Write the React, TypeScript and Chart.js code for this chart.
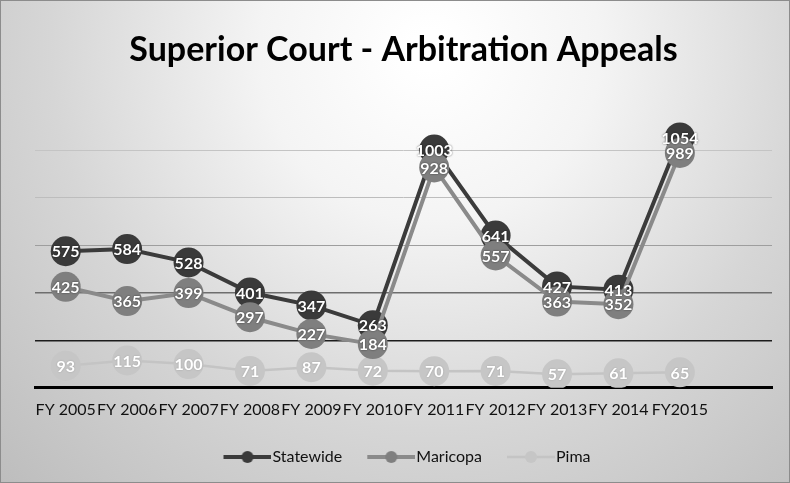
import React, { useEffect, useRef } from "react";
import { Chart, registerables } from "chart.js";

Chart.register(...registerables);

const chartTitle = "Superior Court - Arbitration Appeals";
const categories = [
  "FY 2005", "FY 2006", "FY 2007", "FY 2008", "FY 2009", "FY 2010",
  "FY 2011", "FY 2012", "FY 2013", "FY 2014", "FY2015", "",
];
const seriesNames = ["Statewide", "Maricopa", "Pima"];
const statewide = [575, 584, 528, 401, 347, 263, 1003, 641, 427, 413, 1054];
const maricopa = [425, 365, 399, 297, 227, 184, 928, 557, 363, 352, 989];
const pima = [93, 115, 100, 71, 87, 72, 70, 71, 57, 61, 65];
const yMin = 0;
const yMax = 1200;
const yStep = 200;

const lineColors = ["#3b3b3b", "#8a8a8a", "#c4c4c4"];
const pointColors = ["#3a3a3a", "#7f7f7f", "#c6c6c6"];
const lineWidths = [4, 4, 2.5];

function gridColor(v: number): string {
  if (v === 0) return "#000000";
  if (v === 200) return "#1c1c1c";
  if (v === 400) return "#6e6e6e";
  if (v === 600) return "#9e9e9e";
  if (v === 800) return "#bdbdbd";
  if (v === 1000) return "#c4c4c4";
  return "rgba(0,0,0,0)";
}
function gridWidth(v: number): number {
  if (v === 0) return 3;
  if (v === 200) return 1.6;
  if (v === 400) return 1.4;
  return 1;
}

function makeMarker(color: string, lineColor: string, lw: number): HTMLCanvasElement {
  const c = document.createElement("canvas");
  c.width = 62;
  c.height = 16;
  const g = c.getContext("2d")!;
  g.strokeStyle = lineColor;
  g.lineWidth = lw;
  g.beginPath();
  g.moveTo(14, 8);
  g.lineTo(62, 8);
  g.stroke();
  g.fillStyle = color;
  g.beginPath();
  g.arc(38, 8, 6, 0, Math.PI * 2);
  g.fill();
  return c;
}

const bgPlugin = {
  id: "bgPlugin",
  beforeDraw(chart: any) {
    const { ctx, width, height } = chart;
    ctx.save();
    const grad = ctx.createRadialGradient(430, 50, 20, 430, 50, 620);
    grad.addColorStop(0, "#ffffff");
    grad.addColorStop(0.25, "#f4f4f4");
    grad.addColorStop(0.6, "#d6d6d6");
    grad.addColorStop(1, "#bcbcbc");
    ctx.fillStyle = grad;
    ctx.fillRect(0, 0, width, height);
    ctx.strokeStyle = "#8c8c8c";
    ctx.lineWidth = 1;
    ctx.strokeRect(0.5, 0.5, width - 1, height - 1);
    ctx.restore();
  },
};

const labelPlugin = {
  id: "labelPlugin",
  afterDatasetsDraw(chart: any) {
    const ctx = chart.ctx;
    ctx.save();
    ctx.font = "bold 16px Lato";
    ctx.textAlign = "center";
    ctx.textBaseline = "middle";
    const drawOrder = [2, 0, 1];
    drawOrder.forEach((i) => {
      const ds = chart.data.datasets[i];
      const meta = chart.getDatasetMeta(i);
      meta.data.forEach((pt: any, j: number) => {
        const v = ds.data[j];
        if (v == null) return;
        ctx.shadowColor = i === 2 ? "rgba(0,0,0,0.2)" : "rgba(0,0,0,0.6)";
        ctx.shadowBlur = 2;
        ctx.fillStyle = "#ffffff";
        ctx.fillText(String(v), pt.x, pt.y + 1);
      });
    });
    ctx.restore();
  },
};

export default function App() {
  const ref = useRef<HTMLCanvasElement>(null);
  useEffect(() => {
    if (!ref.current) return;
    const markers = [0, 1, 2].map((i) => makeMarker(pointColors[i], lineColors[i], lineWidths[i]));
    const seriesData = [statewide, maricopa, pima];
    const orders = [1, 0, 2];
    const chart = new Chart(ref.current, {
      type: "line",
      data: {
        labels: categories,
        datasets: seriesNames.map((name, i) => ({
          label: name,
          data: seriesData[i],
          borderColor: lineColors[i],
          backgroundColor: pointColors[i],
          borderWidth: lineWidths[i],
          pointRadius: 15,
          pointBackgroundColor: pointColors[i],
          pointBorderColor: pointColors[i],
          pointBorderWidth: 0,
          tension: 0,
          fill: false,
          order: orders[i],
        })),
      },
      options: {
        responsive: false,
        animation: false,
        devicePixelRatio: 1,
        layout: { padding: { left: 35, right: 18, top: 4, bottom: 8 } },
        plugins: {
          tooltip: { enabled: false },
          title: {
            display: true,
            text: chartTitle,
            color: "#000000",
            font: { family: "Lato", size: 34, weight: "bold" },
            padding: { top: 26, bottom: 32 },
          },
          legend: {
            position: "bottom",
            labels: {
              usePointStyle: true,
              pointStyleWidth: 48,
              padding: 18,
              color: "#111111",
              font: { family: "Lato", size: 16 },
              generateLabels: () =>
                seriesNames.map((name, i) => ({
                  text: name,
                  pointStyle: markers[i] as any,
                  fillStyle: "rgba(0,0,0,0)",
                  strokeStyle: "rgba(0,0,0,0)",
                  lineWidth: 0,
                  hidden: false,
                  datasetIndex: i,
                  fontColor: "#111111",
                })),
            },
          },
        },
        scales: {
          x: {
            offset: true,
            grid: { display: false, drawTicks: false, offset: true },
            border: { display: true, color: "#000000", width: 3 },
            ticks: {
              color: "#111111",
              font: { family: "Lato", size: 16 },
              padding: 12,
              maxRotation: 0,
              minRotation: 0,
              autoSkip: false,
            },
          },
          y: {
            min: yMin,
            max: yMax,
            ticks: { stepSize: yStep, display: false },
            border: { display: false },
            grid: {
              drawTicks: false,
              color: (c: any) => gridColor(c.tick ? c.tick.value : -1),
              lineWidth: (c: any) => gridWidth(c.tick ? c.tick.value : -1),
            },
          },
        },
      },
      plugins: [bgPlugin, labelPlugin],
    } as any);
    return () => chart.destroy();
  }, []);
  return (
    <div style={{ position: "absolute", left: 0, top: 0, width: 790, height: 483 }}>
      <canvas ref={ref} width={790} height={483} style={{ width: 790, height: 483 }} />
    </div>
  );
}
